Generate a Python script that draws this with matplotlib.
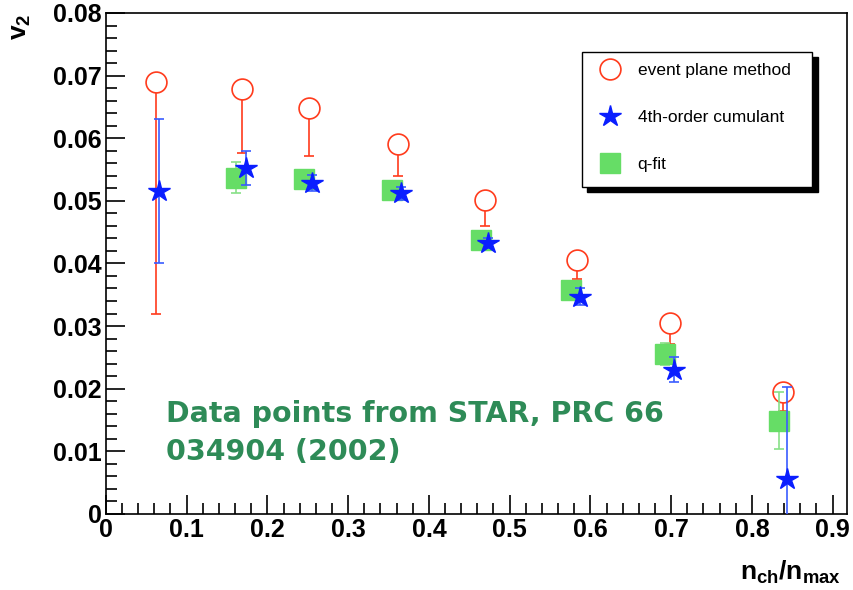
import numpy as np
import matplotlib
matplotlib.use("Agg")
import matplotlib.pyplot as plt
from matplotlib.patches import Rectangle
from matplotlib.ticker import MultipleLocator

# Ajustes de fuentes (tipo Helvetica en negrita para los ejes)
plt.rcParams['font.family'] = ['Liberation Sans', 'DejaVu Sans']
plt.rcParams['mathtext.fontset'] = 'custom'
plt.rcParams['mathtext.rm'] = 'Liberation Sans'
plt.rcParams['mathtext.bf'] = 'Liberation Sans:bold'

# Método del plano de evento (solo barra de error inferior)
ep_x = [0.062, 0.1685, 0.251, 0.3614, 0.470, 0.5836, 0.699, 0.8385]
ep_v2 = [0.0689, 0.0678, 0.0648, 0.0591, 0.0502, 0.0406, 0.0305, 0.0195]
ep_err_low = [0.0370, 0.0101, 0.0076, 0.0051, 0.0043, 0.0031, 0.0033, 0.0030]

# Cumulante de cuarto orden
cu_x = [0.066, 0.1735, 0.255, 0.3655, 0.4738, 0.5877, 0.703, 0.8434]
cu_v2 = [0.0516, 0.0552, 0.0529, 0.0512, 0.0432, 0.0347, 0.0230, 0.0055]
cu_err = [0.0115, 0.0027, 0.0013, 0.0010, 0.0008, 0.0014, 0.0020, 0.0147]

# q-fit
qf_x = [0.161, 0.2453, 0.354, 0.464, 0.576, 0.693, 0.833]
qf_v2 = [0.0537, 0.0535, 0.0518, 0.0437, 0.0358, 0.0255, 0.0149]
qf_err = [0.0025, 0.0010, 0.0008, 0.0007, 0.0008, 0.0018, 0.0045]

red = '#ff3b1c'
blue = '#0a1eff'
green = '#66dd66'

fig = plt.figure(figsize=(8.54, 5.90), dpi=100)
ax = fig.add_axes([0.124, 0.129, 0.868, 0.849])

ax.errorbar(ep_x, ep_v2, yerr=[ep_err_low, np.zeros(len(ep_v2))],
            fmt='o', ms=15, mfc='white', mec=red, mew=1.2, ecolor=red,
            elinewidth=1.2, capsize=3.5, capthick=1.2, zorder=2,
            label='event plane method')
ax.errorbar(qf_x, qf_v2, yerr=qf_err, fmt='s', ms=14.5, mfc=green, mec=green,
            ecolor='#88e088', elinewidth=1.2, capsize=3.5, capthick=1.2,
            zorder=3, label='q-fit')
ax.errorbar(cu_x, cu_v2, yerr=cu_err, fmt='*', ms=16, mfc=blue, mec=blue,
            ecolor='#3a5cff', elinewidth=1.2, capsize=3.5, capthick=1.2,
            zorder=4, label='4th-order cumulant')

ax.set_xlim(0, 0.918)
ax.set_ylim(0, 0.08)

ax.xaxis.set_major_locator(MultipleLocator(0.1))
ax.xaxis.set_minor_locator(MultipleLocator(0.02))
ax.yaxis.set_major_locator(MultipleLocator(0.01))
ax.yaxis.set_minor_locator(MultipleLocator(0.002))
ax.set_xticks(np.arange(0, 0.91, 0.1))
ax.set_xticklabels(['0', '0.1', '0.2', '0.3', '0.4', '0.5', '0.6', '0.7', '0.8', '0.9'])
ax.set_yticks(np.arange(0, 0.081, 0.01))
ax.set_yticklabels(['0', '0.01', '0.02', '0.03', '0.04', '0.05', '0.06', '0.07', '0.08'])

ax.tick_params(which='both', direction='in', top=False, right=False, width=1.2)
ax.tick_params(which='major', length=14, labelsize=18, pad=3)
ax.tick_params(which='minor', length=8)
for lbl in ax.get_xticklabels() + ax.get_yticklabels():
    lbl.set_fontweight('bold')
for s in ax.spines.values():
    s.set_linewidth(1.2)

# Etiquetas de los ejes
fig.text(0.985, 0.03, r'$\mathbf{n_{ch}/n_{max}}$', ha='right', va='center', fontsize=19)
fig.text(0.025, 0.955, r'$\mathbf{v_{2}}$', ha='center', va='center', fontsize=19,
         rotation=90)

# Cuadro de la leyenda con sombra
lx0, ly0, lw, lh = 0.642, 0.653, 0.311, 0.269
ax.add_patch(Rectangle((lx0 + 0.007, ly0 - 0.010), lw, lh, transform=ax.transAxes,
                       facecolor='black', edgecolor='black', zorder=8, clip_on=False))
ax.add_patch(Rectangle((lx0, ly0), lw, lh, transform=ax.transAxes,
                       facecolor='white', edgecolor='black', lw=1.0, zorder=9,
                       clip_on=False))
h, l = ax.get_legend_handles_labels()
order = [0, 2, 1]
leg = ax.legend([h[i][0] for i in order], [l[i] for i in order],
                loc='center left', bbox_to_anchor=(lx0 - 0.002, ly0 + lh / 2 + 0.004),
                frameon=False, fontsize=12.5, labelspacing=1.85, handletextpad=0.8,
                handlelength=1.6, numpoints=1)
leg.set_zorder(10)

# Nota sobre el origen de los datos
ax.text(0.081, 0.162, 'Data points from STAR, PRC 66\n034904 (2002)',
        transform=ax.transAxes, color='#2e8b57', fontsize=20.5, fontweight='bold',
        family='DejaVu Sans', ha='left', va='center', linespacing=1.45)

fig.savefig('out.png', dpi=100)
